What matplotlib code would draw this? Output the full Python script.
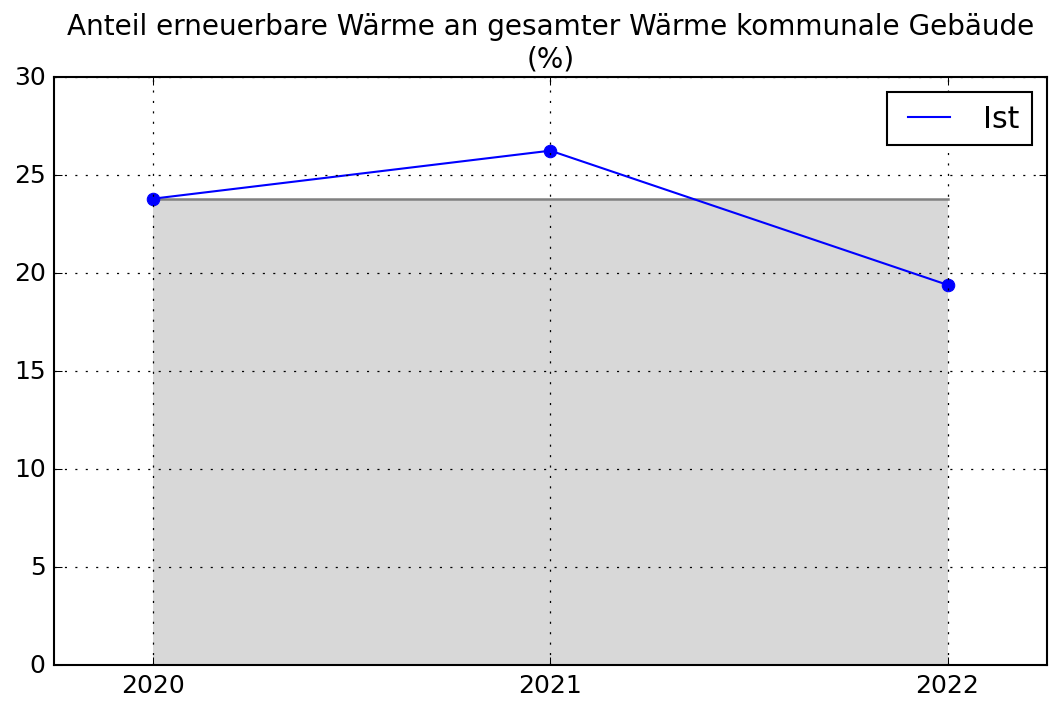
import matplotlib
matplotlib.use('Agg')
import matplotlib.pyplot as plt
import numpy as np

plt.style.use('classic')

# data
jahre = [2020, 2021, 2022]
ist = [23.8, 26.25, 19.4]
basis = [23.8, 23.8, 23.8]   # reference level of 2020 (grey area)

titel = 'Anteil erneuerbare Wärme an gesamter Wärme kommunale Gebäude\n(%)'

fig, ax = plt.subplots(figsize=(7, 4.693), dpi=150)
fig.patch.set_facecolor('white')
fig.subplots_adjust(left=0.0514, right=0.997, top=0.889, bottom=0.054)

ax.fill_between(jahre, 0, basis, color='grey', alpha=0.3, linewidth=0)
ax.plot(jahre, basis, color='grey', linewidth=1.2)
ax.plot(jahre, ist, color='b', label='Ist')
ax.plot(jahre, ist, 'o', color='b', markeredgecolor='b', markersize=6)

ax.set_xlim(2019.75, 2022.25)
ax.set_ylim(0, 30)
ax.set_xticks(jahre)
ax.set_xticklabels([str(j) for j in jahre])
ax.grid(True, linestyle=(0, (1, 4)), linewidth=0.6)
ax.set_title(titel, fontsize=13.4)
ax.legend(loc='upper right')

fig.savefig('out.png', dpi=150, facecolor='white')
